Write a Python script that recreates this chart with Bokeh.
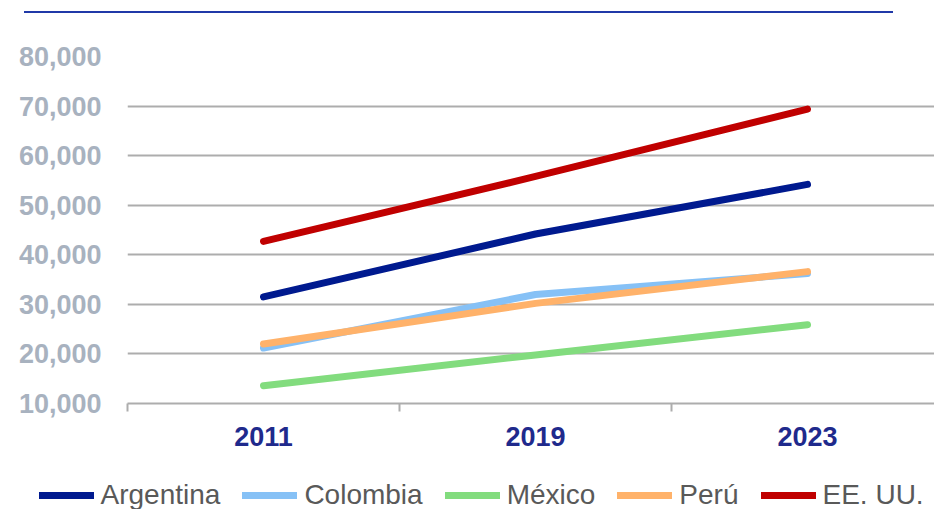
from bokeh.plotting import figure
from bokeh.models import Range1d, FixedTicker, NumeralTickFormatter, Legend, LegendItem, Div
from bokeh.layouts import column
from bokeh.embed import file_html
from bokeh.resources import INLINE

years = ["2011", "2019", "2023"]
series_names = ["Argentina", "Colombia", "México", "Perú", "EE. UU."]
argentina = [31500, 44200, 54200]
colombia = [21200, 32000, 36200]
mexico = [13600, 19800, 25900]
peru = [22000, 30200, 36600]
eeuu = [42700, 55800, 69400]
y_ticks = [10000, 20000, 30000, 40000, 50000, 60000, 70000, 80000]

series_values = [argentina, colombia, mexico, peru, eeuu]
colors = ["#001A8F", "#86C1F6", "#82DC7E", "#FFB26A", "#C00000"]

FONT = "Liberation Sans"
GRID = "#ADADAD"

xs = [i + 0.5 for i in range(len(years))]

p = figure(width=934, height=458, output_backend="svg", toolbar_location=None,
           x_range=Range1d(0, 807 / 272), y_range=Range1d(y_ticks[0], y_ticks[-1]),
           min_border_left=127, min_border_right=0, min_border_top=43, min_border_bottom=68)
p.frame_align = False
p.outline_line_color = None
p.background_fill_color = "white"
p.border_fill_color = "white"

p.xgrid.visible = False
p.ygrid.grid_line_color = GRID
p.ygrid.grid_line_width = 2

xa = p.xaxis[0]
xa.ticker = FixedTicker(ticks=xs, minor_ticks=[0, 1, 2, 3])
xa.major_label_overrides = {x: y for x, y in zip(xs, years)}
xa.major_tick_out = 0
xa.major_tick_in = 0
xa.minor_tick_out = 8
xa.minor_tick_in = 0
xa.minor_tick_line_color = GRID
xa.minor_tick_line_width = 2
xa.axis_line_color = GRID
xa.axis_line_width = 2
xa.major_label_text_font = FONT
xa.major_label_text_font_style = "bold"
xa.major_label_text_font_size = "27px"
xa.major_label_text_color = "#1F2A8C"
xa.major_label_standoff = 15

ya = p.yaxis[0]
ya.ticker = FixedTicker(ticks=y_ticks)
ya.formatter = NumeralTickFormatter(format="0,0")
ya.axis_line_color = None
ya.major_tick_line_color = None
ya.minor_tick_line_color = None
ya.major_label_text_font = FONT
ya.major_label_text_font_style = "bold"
ya.major_label_text_font_size = "27px"
ya.major_label_text_color = "#A8B2BF"
ya.major_label_standoff = 20

for name, vals, col in zip(series_names, series_values, colors):
    p.line(xs, vals, line_color=col, line_width=7, line_cap="round", line_join="round")

# legend strip (same series, ranges keep the lines out of view; only the legend shows)
lg = figure(width=934, height=38, output_backend="svg", toolbar_location=None,
            x_range=Range1d(-10, -9), y_range=Range1d(0, 1),
            x_axis_location=None, y_axis_location=None,
            min_border_left=0, min_border_right=0, min_border_top=0, min_border_bottom=0)
lg.frame_align = False
lg.grid.visible = False
lg.outline_line_color = None
lg.background_fill_color = "white"
lg.border_fill_color = "white"

items = []
for name, vals, col in zip(series_names, series_values, colors):
    r = lg.line(xs, vals, line_color=col, line_width=7, line_cap="round")
    items.append(LegendItem(label=name, renderers=[r]))

legend = Legend(items=items, orientation="horizontal", location=(38.5, -2),
                padding=0, margin=0, spacing=22, glyph_width=55, glyph_height=28,
                label_height=28, label_standoff=7,
                label_text_font=FONT, label_text_font_size="28px",
                label_text_color="#595959",
                border_line_alpha=0, background_fill_alpha=0)
lg.add_layout(legend, "center")

top_line = Div(text="", width=869, height=2, margin=(11, 0, 0, 24),
               styles={"background-color": "#2039A8"})

layout = column(top_line, p, lg, spacing=0)

open("out.html", "w").write(file_html(layout, INLINE))
